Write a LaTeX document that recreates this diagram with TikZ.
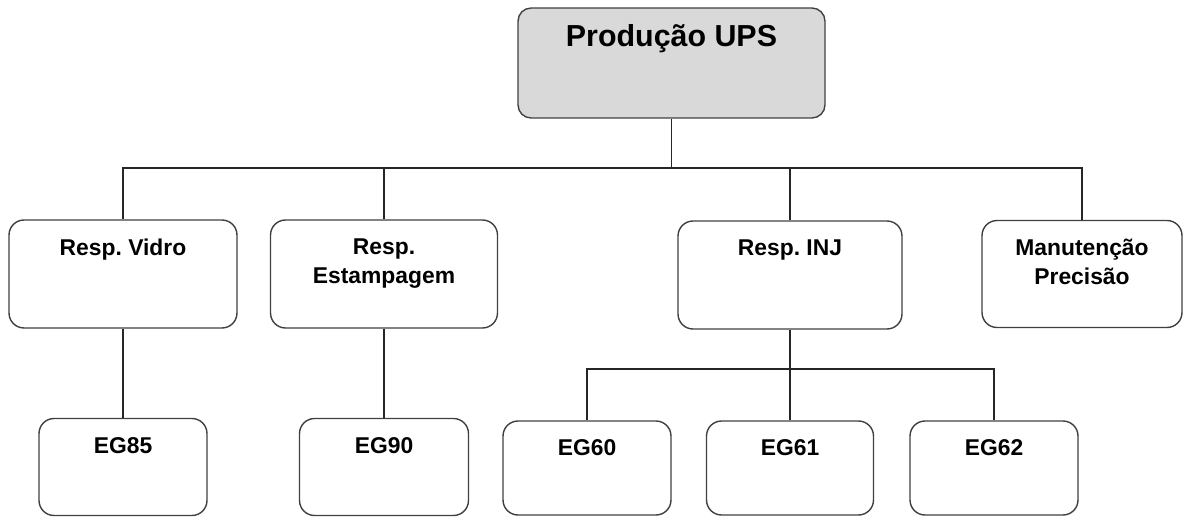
\documentclass[tikz,border=0pt]{standalone}
\usepackage{fontspec}
\setmainfont{Liberation Sans}
\frenchspacing

\tikzset{
	box/.style={draw=black!75, line width=0.8pt, rounded corners=0.3cm},
	lbl/.style={font=\bfseries\fontsize{13}{16.5}\selectfont, anchor=north, inner sep=0pt, align=center},
	boxtext/.style={label={[lbl, yshift=-0.38cm]north:#1}},
	link/.style={draw=black!85, line width=0.8pt},
}

\begin{document}
\begin{tikzpicture}[x=0.02cm, y=-0.02cm]
	\useasboundingbox (0,0) rectangle (1192,517);

	% Level 1
	\node [box, fill=black!15, rounded corners=0.26cm, minimum width=6.14cm, minimum height=2.2cm,
		label={[lbl, font=\bfseries\fontsize{17.3}{20}\selectfont, yshift=-0.34cm]north:Produção UPS}] at (671.5,63) (1UPS) {};

	% Level 2
	\node [box, minimum width=4.56cm, minimum height=2.16cm, boxtext={Resp. Vidro}] at (123,274) (2Vidro) {};
	\node [box, minimum width=4.54cm, minimum height=2.16cm, boxtext={Resp.\\Estampagem}] at (384,274) (2Estamp) {};
	\node [box, minimum width=4.48cm, minimum height=2.16cm, boxtext={Resp. INJ}] at (790,275) (2INJ) {};
	\node [box, minimum width=4.0cm, minimum height=2.14cm, boxtext={Manutenção\\Precisão}] at (1082,274) (2Manut) {};

	% Level 3
	\node [box, minimum width=3.36cm, minimum height=1.94cm, boxtext={EG85}] at (123,467) (3EG85) {};
	\node [box, minimum width=3.38cm, minimum height=1.94cm, boxtext={EG90}] at (384,467) (3EG90) {};
	\node [box, minimum width=3.36cm, minimum height=1.88cm, boxtext={EG60}] at (587,468) (3EG60) {};
	\node [box, minimum width=3.34cm, minimum height=1.88cm, boxtext={EG61}] at (790,468) (3EG61) {};
	\node [box, minimum width=3.36cm, minimum height=1.88cm, boxtext={EG62}] at (994,468) (3EG62) {};

	% Buses
	\coordinate (bus1) at (0,168);
	\coordinate (bus2) at (0,369);

	% Connections
	\draw [link] (node cs:name=1UPS, anchor=south) -- (1UPS.south |- bus1);
	\draw [link] (2Vidro.north) -- (2Vidro.north |- bus1) -- (2Manut.north |- bus1) -- (2Manut.north);
	\draw [link] (2Estamp.north) -- (2Estamp.north |- bus1);
	\draw [link] (2INJ.north) -- (2INJ.north |- bus1);
	\draw [link] (2Vidro.south) -- (3EG85.north);
	\draw [link] (2Estamp.south) -- (3EG90.north);
	\draw [link] (2INJ.south) -- (3EG61.north);
	\draw [link] (3EG60.north) -- (3EG60.north |- bus2) -- (3EG62.north |- bus2) -- (3EG62.north);

\end{tikzpicture}
\end{document}
